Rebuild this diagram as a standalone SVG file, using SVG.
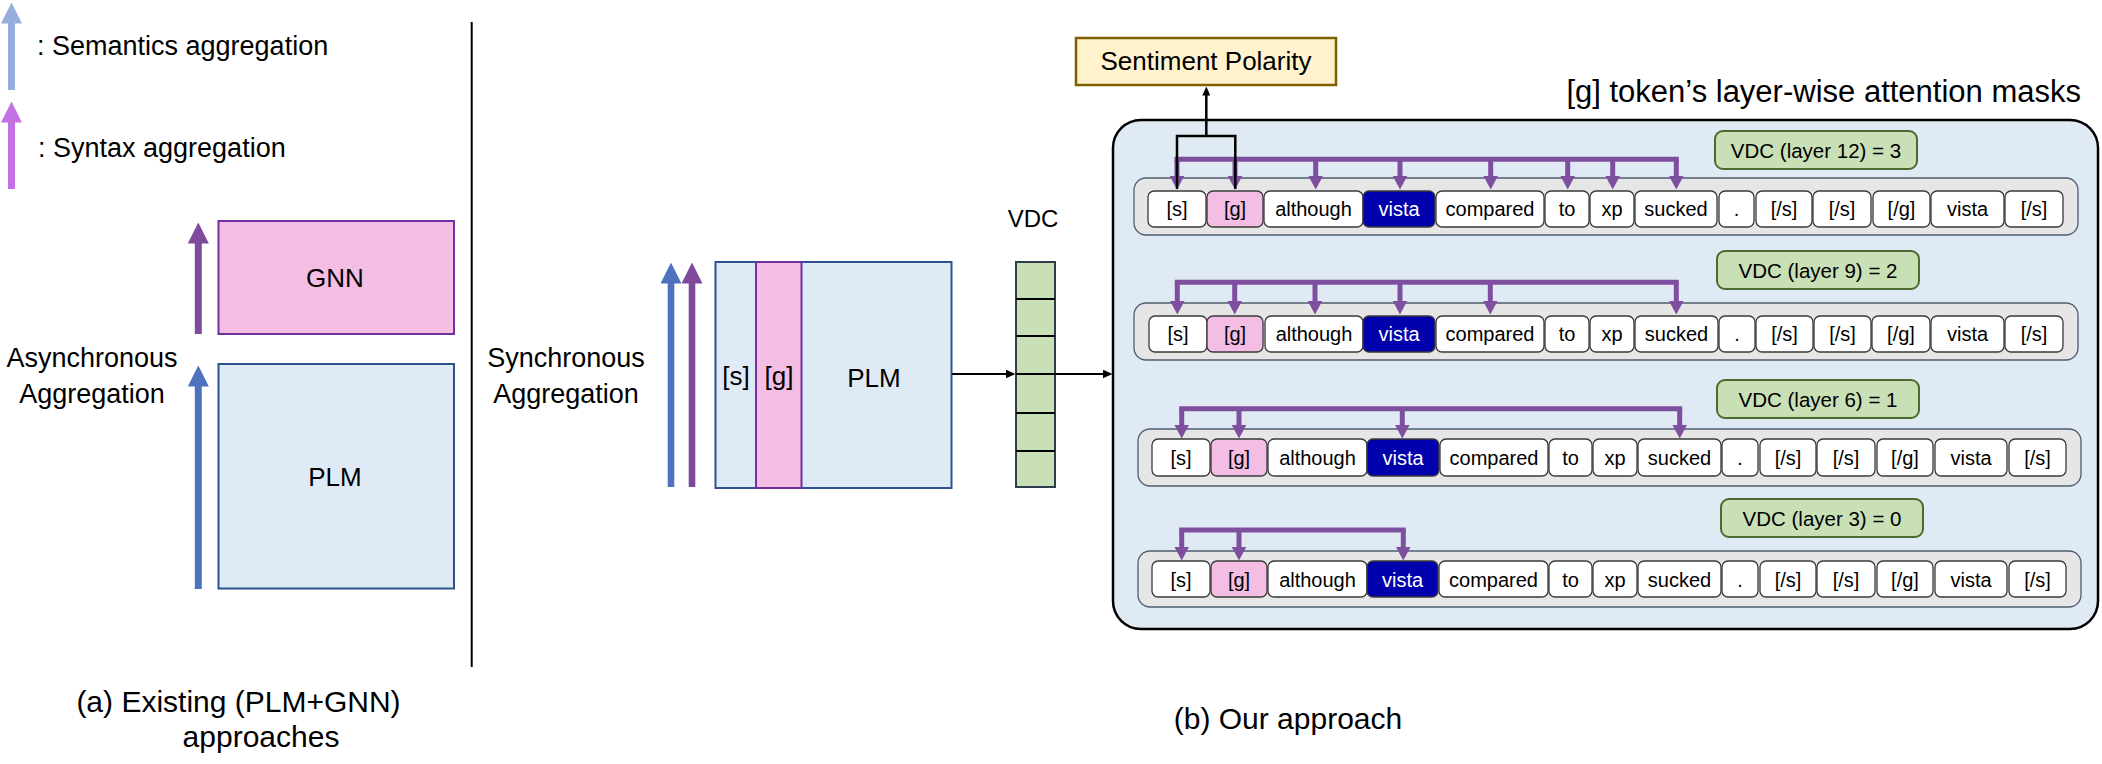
<svg xmlns="http://www.w3.org/2000/svg" width="2102" height="764" viewBox="0 0 2102 764">
<style>
text{font-family:"Liberation Sans",Arial,sans-serif;fill:#000}
.tok{fill:#fff;stroke:#3a3a3a;stroke-width:1.3}
.tokg{fill:#F4BDE4;stroke:#3a3a3a;stroke-width:1.3}
.tokv{fill:#0000AC;stroke:#3a3a3a;stroke-width:1.3}
.tt{font-size:20px;text-anchor:middle}
.ttw{font-size:20px;text-anchor:middle;fill:#fff}
.row{fill:#E6E6E6;stroke:#4F5E72;stroke-width:1.3}
.vdcl{fill:#C9DFB6;stroke:#4B6A2D;stroke-width:2}
.vt{font-size:20.5px;text-anchor:middle}
.ph{fill:none;stroke:#7F4F9F;stroke-width:5;stroke-linecap:square}
.pa{fill:none;stroke:#7F4F9F;stroke-width:5;marker-end:url(#mP)}
.blk{fill:none;stroke:#000;stroke-width:2.5}
.cap{font-size:30px;text-anchor:middle}
.lbl{font-size:27px}
</style>
<defs>
<marker id="mP" markerUnits="userSpaceOnUse" markerWidth="14" markerHeight="15" viewBox="0 0 14 15" refX="0.5" refY="7.5" orient="auto"><path d="M0,0 L14,7.5 L0,15 z" fill="#7F4F9F"/></marker>
<marker id="mK" markerUnits="userSpaceOnUse" markerWidth="10" markerHeight="9" viewBox="0 0 10 9" refX="0.5" refY="4.5" orient="auto"><path d="M0,0 L10,4.5 L0,9 z" fill="#000"/></marker>
<marker id="mKs" markerUnits="userSpaceOnUse" markerWidth="9" markerHeight="8" viewBox="0 0 9 8" refX="0.5" refY="4" orient="auto"><path d="M0,0 L9,4 L0,8 z" fill="#000"/></marker>
<marker id="mLB" markerUnits="userSpaceOnUse" markerWidth="21" markerHeight="21" viewBox="0 0 21 21" refX="0.5" refY="10.5" orient="auto"><path d="M0,0 L21,10.5 L0,21 z" fill="#97AEDC"/></marker>
<marker id="mV" markerUnits="userSpaceOnUse" markerWidth="21" markerHeight="21" viewBox="0 0 21 21" refX="0.5" refY="10.5" orient="auto"><path d="M0,0 L21,10.5 L0,21 z" fill="#C372E6"/></marker>
<marker id="mB" markerUnits="userSpaceOnUse" markerWidth="21" markerHeight="21" viewBox="0 0 21 21" refX="0.5" refY="10.5" orient="auto"><path d="M0,0 L21,10.5 L0,21 z" fill="#4E72BE"/></marker>
<marker id="mPu" markerUnits="userSpaceOnUse" markerWidth="21" markerHeight="21" viewBox="0 0 21 21" refX="0.5" refY="10.5" orient="auto"><path d="M0,0 L21,10.5 L0,21 z" fill="#7E4B9C"/></marker>
</defs>
<rect width="2102" height="764" fill="#fff"/>

<g id="legend">
<line x1="11.5" y1="90" x2="11.5" y2="23" stroke="#97AEDC" stroke-width="7" marker-end="url(#mLB)"/>
<text class="lbl" x="37" y="55">: Semantics aggregation</text>
<line x1="11.5" y1="189" x2="11.5" y2="122" stroke="#C372E6" stroke-width="7" marker-end="url(#mV)"/>
<text class="lbl" x="38" y="157">: Syntax aggregation</text>
</g>

<line id="divider" x1="471.7" y1="22" x2="471.7" y2="667" stroke="#000" stroke-width="2"/>

<g id="gnn">
<rect x="218.5" y="221" width="235.5" height="113" fill="#F4BDE4" stroke="#7030A0" stroke-width="2"/>
<text x="335" y="287" font-size="26" text-anchor="middle">GNN</text>
</g>
<g id="plm-a">
<rect x="218.5" y="364" width="235.5" height="224.5" fill="#DEEBF7" stroke="#2F528F" stroke-width="2"/>
<text x="335" y="486" font-size="26" text-anchor="middle">PLM</text>
</g>
<g id="async-label">
<text class="lbl" x="92" y="367" text-anchor="middle">Asynchronous</text>
<text class="lbl" x="92" y="403" text-anchor="middle">Aggregation</text>
</g>
<text class="cap" x="238.5" y="712">(a) Existing (PLM+GNN)</text>
<text class="cap" x="261" y="747">approaches</text>

<g id="sync-label">
<text class="lbl" x="566" y="367" text-anchor="middle">Synchronous</text>
<text class="lbl" x="566" y="403" text-anchor="middle">Aggregation</text>
</g>
<g id="plm-b">
<rect x="715.5" y="262" width="236" height="226" fill="#DEEBF7" stroke="#2F528F" stroke-width="2"/>
<rect x="756" y="262" width="45.5" height="226" fill="#F4BDE4" stroke="#7030A0" stroke-width="2"/>
<text x="736" y="385" font-size="26" text-anchor="middle">[s]</text>
<text x="779" y="385" font-size="26" text-anchor="middle">[g]</text>
<text x="874" y="387" font-size="26" text-anchor="middle">PLM</text>
</g>
<g id="vdc">
<text x="1033" y="227" font-size="24" text-anchor="middle">VDC</text>
<rect x="1016" y="262" width="39" height="225" fill="#C9DFB6" stroke="#2F3E4E" stroke-width="2"/>
<path d="M1016,299H1055M1016,336H1055M1016,374H1055M1016,413H1055M1016,451H1055" stroke="#000" stroke-width="2"/>
</g>
<g id="sentiment">
<rect x="1076" y="38" width="260" height="47" fill="#FFF2CC" stroke="#7F6000" stroke-width="2.5"/>
<text x="1206" y="70" font-size="26" text-anchor="middle">Sentiment Polarity</text>
</g>
<text id="title" x="2081" y="102" font-size="31" text-anchor="end">[g] token’s layer-wise attention masks</text>
<g id="masks-box">
<rect x="1113" y="120" width="985" height="509" rx="28" fill="#DFEAF5" stroke="#000" stroke-width="2.5"/>
</g>

<g id="vdc12"><rect class="vdcl" x="1715" y="131" width="202" height="38" rx="8"/><text class="vt" x="1816" y="158">VDC (layer 12) = 3</text></g>
<g id="vdc9"><rect class="vdcl" x="1717" y="251" width="202" height="38" rx="8"/><text class="vt" x="1818" y="278">VDC (layer 9) = 2</text></g>
<g id="vdc6"><rect class="vdcl" x="1717" y="380" width="202" height="38" rx="8"/><text class="vt" x="1818" y="407">VDC (layer 6) = 1</text></g>
<g id="vdc3"><rect class="vdcl" x="1721" y="499" width="202" height="38" rx="8"/><text class="vt" x="1822" y="526">VDC (layer 3) = 0</text></g>

<g id="row12">
<rect class="row" x="1134" y="178" width="944" height="57" rx="12"/>
<rect class="tok" x="1148" y="191" width="58" height="36" rx="6"/><text class="tt" x="1177" y="216">[s]</text>
<rect class="tokg" x="1207" y="191" width="56" height="36" rx="6"/><text class="tt" x="1235" y="216">[g]</text>
<rect class="tok" x="1264" y="191" width="99" height="36" rx="6"/><text class="tt" x="1313.5" y="216">although</text>
<rect class="tokv" x="1363" y="191" width="72" height="36" rx="6"/><text class="ttw" x="1399" y="216">vista</text>
<rect class="tok" x="1436" y="191" width="108" height="36" rx="6"/><text class="tt" x="1490" y="216">compared</text>
<rect class="tok" x="1545" y="191" width="44" height="36" rx="6"/><text class="tt" x="1567" y="216">to</text>
<rect class="tok" x="1590" y="191" width="44" height="36" rx="6"/><text class="tt" x="1612" y="216">xp</text>
<rect class="tok" x="1635" y="191" width="82" height="36" rx="6"/><text class="tt" x="1676" y="216">sucked</text>
<rect class="tok" x="1719" y="191" width="35" height="36" rx="6"/><text class="tt" x="1736.5" y="216">.</text>
<rect class="tok" x="1756" y="191" width="56" height="36" rx="6"/><text class="tt" x="1784" y="216">[/s]</text>
<rect class="tok" x="1813" y="191" width="58" height="36" rx="6"/><text class="tt" x="1842" y="216">[/s]</text>
<rect class="tok" x="1873" y="191" width="57" height="36" rx="6"/><text class="tt" x="1901.5" y="216">[/g]</text>
<rect class="tok" x="1931" y="191" width="73" height="36" rx="6"/><text class="tt" x="1967.5" y="216">vista</text>
<rect class="tok" x="2005" y="191" width="58" height="36" rx="6"/><text class="tt" x="2034" y="216">[/s]</text>
</g>

<g id="row9">
<rect class="row" x="1134" y="303" width="944" height="57" rx="12"/>
<rect class="tok" x="1149" y="316" width="58" height="36" rx="6"/><text class="tt" x="1178" y="341">[s]</text>
<rect class="tokg" x="1207" y="316" width="56" height="36" rx="6"/><text class="tt" x="1235" y="341">[g]</text>
<rect class="tok" x="1265" y="316" width="98" height="36" rx="6"/><text class="tt" x="1314" y="341">although</text>
<rect class="tokv" x="1363" y="316" width="72" height="36" rx="6"/><text class="ttw" x="1399" y="341">vista</text>
<rect class="tok" x="1436" y="316" width="108" height="36" rx="6"/><text class="tt" x="1490" y="341">compared</text>
<rect class="tok" x="1545" y="316" width="44" height="36" rx="6"/><text class="tt" x="1567" y="341">to</text>
<rect class="tok" x="1590" y="316" width="44" height="36" rx="6"/><text class="tt" x="1612" y="341">xp</text>
<rect class="tok" x="1635" y="316" width="83" height="36" rx="6"/><text class="tt" x="1676.5" y="341">sucked</text>
<rect class="tok" x="1719" y="316" width="36" height="36" rx="6"/><text class="tt" x="1737" y="341">.</text>
<rect class="tok" x="1756" y="316" width="57" height="36" rx="6"/><text class="tt" x="1784.5" y="341">[/s]</text>
<rect class="tok" x="1814" y="316" width="57" height="36" rx="6"/><text class="tt" x="1842.5" y="341">[/s]</text>
<rect class="tok" x="1872" y="316" width="58" height="36" rx="6"/><text class="tt" x="1901" y="341">[/g]</text>
<rect class="tok" x="1931" y="316" width="73" height="36" rx="6"/><text class="tt" x="1967.5" y="341">vista</text>
<rect class="tok" x="2005" y="316" width="58" height="36" rx="6"/><text class="tt" x="2034" y="341">[/s]</text>
</g>

<g id="row6">
<rect class="row" x="1138" y="429" width="943" height="57" rx="12"/>
<rect class="tok" x="1152" y="439" width="58" height="37" rx="6"/><text class="tt" x="1181" y="465">[s]</text>
<rect class="tokg" x="1211" y="439" width="56" height="37" rx="6"/><text class="tt" x="1239" y="465">[g]</text>
<rect class="tok" x="1268" y="439" width="99" height="37" rx="6"/><text class="tt" x="1317.5" y="465">although</text>
<rect class="tokv" x="1367" y="439" width="72" height="37" rx="6"/><text class="ttw" x="1403" y="465">vista</text>
<rect class="tok" x="1440" y="439" width="108" height="37" rx="6"/><text class="tt" x="1494" y="465">compared</text>
<rect class="tok" x="1549" y="439" width="43" height="37" rx="6"/><text class="tt" x="1570.5" y="465">to</text>
<rect class="tok" x="1593" y="439" width="44" height="37" rx="6"/><text class="tt" x="1615" y="465">xp</text>
<rect class="tok" x="1638" y="439" width="83" height="37" rx="6"/><text class="tt" x="1679.5" y="465">sucked</text>
<rect class="tok" x="1722" y="439" width="36" height="37" rx="6"/><text class="tt" x="1740" y="465">.</text>
<rect class="tok" x="1760" y="439" width="56" height="37" rx="6"/><text class="tt" x="1788" y="465">[/s]</text>
<rect class="tok" x="1817" y="439" width="58" height="37" rx="6"/><text class="tt" x="1846" y="465">[/s]</text>
<rect class="tok" x="1877" y="439" width="56" height="37" rx="6"/><text class="tt" x="1905" y="465">[/g]</text>
<rect class="tok" x="1935" y="439" width="72" height="37" rx="6"/><text class="tt" x="1971" y="465">vista</text>
<rect class="tok" x="2009" y="439" width="57" height="37" rx="6"/><text class="tt" x="2037.5" y="465">[/s]</text>
</g>

<g id="row3">
<rect class="row" x="1138" y="551" width="943" height="56" rx="12"/>
<rect class="tok" x="1152" y="561" width="58" height="36" rx="6"/><text class="tt" x="1181" y="587">[s]</text>
<rect class="tokg" x="1211" y="561" width="56" height="36" rx="6"/><text class="tt" x="1239" y="587">[g]</text>
<rect class="tok" x="1268" y="561" width="99" height="36" rx="6"/><text class="tt" x="1317.5" y="587">although</text>
<rect class="tokv" x="1367" y="561" width="71" height="36" rx="6"/><text class="ttw" x="1402.5" y="587">vista</text>
<rect class="tok" x="1439" y="561" width="109" height="36" rx="6"/><text class="tt" x="1493.5" y="587">compared</text>
<rect class="tok" x="1549" y="561" width="43" height="36" rx="6"/><text class="tt" x="1570.5" y="587">to</text>
<rect class="tok" x="1593" y="561" width="44" height="36" rx="6"/><text class="tt" x="1615" y="587">xp</text>
<rect class="tok" x="1638" y="561" width="83" height="36" rx="6"/><text class="tt" x="1679.5" y="587">sucked</text>
<rect class="tok" x="1722" y="561" width="36" height="36" rx="6"/><text class="tt" x="1740" y="587">.</text>
<rect class="tok" x="1760" y="561" width="56" height="36" rx="6"/><text class="tt" x="1788" y="587">[/s]</text>
<rect class="tok" x="1817" y="561" width="58" height="36" rx="6"/><text class="tt" x="1846" y="587">[/s]</text>
<rect class="tok" x="1877" y="561" width="56" height="36" rx="6"/><text class="tt" x="1905" y="587">[/g]</text>
<rect class="tok" x="1935" y="561" width="72" height="36" rx="6"/><text class="tt" x="1971" y="587">vista</text>
<rect class="tok" x="2009" y="561" width="57" height="36" rx="6"/><text class="tt" x="2037.5" y="587">[/s]</text>
</g>
<text id="caption-b" class="cap" x="1288" y="729">(b) Our approach</text>

<g id="connectors">
<line x1="198.3" y1="334" x2="198.3" y2="243" stroke="#7E4B9C" stroke-width="7" marker-end="url(#mPu)"/>
<line x1="198.3" y1="589" x2="198.3" y2="386" stroke="#4E72BE" stroke-width="7" marker-end="url(#mB)"/>
<line x1="671" y1="487" x2="671" y2="283" stroke="#4E72BE" stroke-width="6.6" marker-end="url(#mB)"/>
<line x1="692" y1="487" x2="692" y2="283" stroke="#7E4B9C" stroke-width="6.6" marker-end="url(#mPu)"/>
<line x1="952" y1="374" x2="1006" y2="374" stroke="#000" stroke-width="2" marker-end="url(#mK)"/>
<line x1="1055" y1="374" x2="1103" y2="374" stroke="#000" stroke-width="2" marker-end="url(#mK)"/>

<g id="attn12">
<path class="ph" d="M1177,159.3H1676.3"/>
<path class="pa" d="M1177,159.3V176"/>
<path class="pa" d="M1235,159.3V176"/>
<path class="pa" d="M1315.7,159.3V176"/>
<path class="pa" d="M1400,159.3V176"/>
<path class="pa" d="M1490.7,159.3V176"/>
<path class="pa" d="M1567.7,159.3V176"/>
<path class="pa" d="M1612.7,159.3V176"/>
<path class="pa" d="M1676.3,159.3V176"/>
</g>
<g id="attn9">
<path class="ph" d="M1177.3,282.3H1676.3"/>
<path class="pa" d="M1177.3,282.3V301"/>
<path class="pa" d="M1234.7,282.3V301"/>
<path class="pa" d="M1315,282.3V301"/>
<path class="pa" d="M1400,282.3V301"/>
<path class="pa" d="M1490.3,282.3V301"/>
<path class="pa" d="M1676.3,282.3V301"/>
</g>
<g id="attn6">
<path class="ph" d="M1181.7,408.7H1679.7"/>
<path class="pa" d="M1181.7,408.7V425"/>
<path class="pa" d="M1239,408.7V425"/>
<path class="pa" d="M1402.3,408.7V425"/>
<path class="pa" d="M1679.7,408.7V425"/>
</g>
<g id="attn3">
<path class="ph" d="M1181.7,530H1403.3"/>
<path class="pa" d="M1181.7,530V547"/>
<path class="pa" d="M1239,530V547"/>
<path class="pa" d="M1403.3,530V547"/>
</g>

<g id="readout">
<path class="blk" d="M1177,189V136H1235.3V189"/>
<line x1="1206.3" y1="136" x2="1206.3" y2="95" stroke="#000" stroke-width="2.5" marker-end="url(#mKs)"/>
</g>
</g>
</svg>
